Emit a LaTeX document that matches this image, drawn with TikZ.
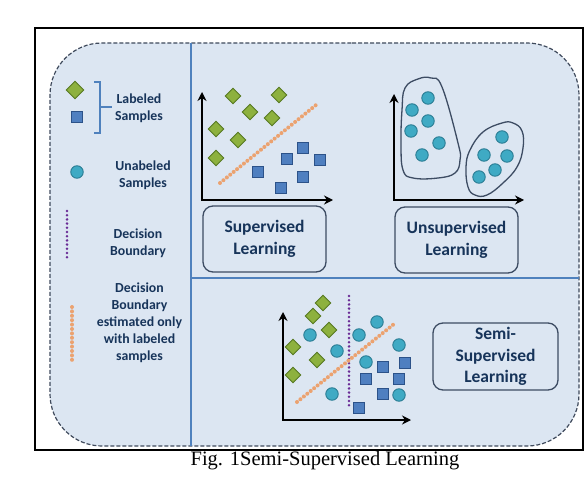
\documentclass[tikz,border=0pt]{standalone}
\usepackage{fontspec}
\setmainfont{Carlito}
\newfontfamily\capfont{Liberation Serif}
\usetikzlibrary{shapes.geometric,arrows.meta}
\definecolor{bgfill}{HTML}{DCE6F2}
\definecolor{bgdash}{HTML}{3F4A5C}
\definecolor{divblue}{HTML}{4F81BD}
\definecolor{gfill}{HTML}{8DB13E}
\definecolor{gdraw}{HTML}{587A25}
\definecolor{bfill}{HTML}{4F7FC0}
\definecolor{bdraw}{HTML}{2C5289}
\definecolor{cfill}{HTML}{3FAAC4}
\definecolor{cdraw}{HTML}{2A7C93}
\definecolor{orng}{HTML}{EBA270}
\definecolor{purp}{HTML}{6A2C96}
\definecolor{boxdraw}{HTML}{3D4C63}
\definecolor{navy}{HTML}{17345A}
\tikzset{
  gdia/.style={diamond,aspect=1,fill=gfill,draw=gdraw,line width=0.9pt,minimum width=16pt,minimum height=16pt,inner sep=0pt},
  bsq/.style={rectangle,fill=bfill,draw=bdraw,line width=0.9pt,minimum size=11.5pt,inner sep=0pt},
  ccir/.style={circle,fill=cfill,draw=cdraw,line width=0.9pt,minimum size=12.5pt,inner sep=0pt},
  lbox/.style={draw=boxdraw,line width=1.3pt,rounded corners=10pt,align=center,text=navy,
    font=\fontsize{17.5}{21.5}\selectfont\bfseries,minimum width=123pt,minimum height=66pt,inner sep=0pt},
  legtxt/.style={align=center,text=navy,font=\fontsize{13.8}{17}\selectfont\bfseries,inner sep=0pt},
  axis/.style={line width=2.4pt,black,{Stealth[length=9pt,width=9pt]}-{Stealth[length=9pt,width=9pt]}},
  orangedots/.style={orng,line width=4pt,line cap=round,dash pattern=on 0pt off 4.4pt},
  purpledots/.style={purp,line width=2.8pt,line cap=round,dash pattern=on 0pt off 4.2pt},
  blob/.style={draw=boxdraw,line width=1.3pt},
}
\begin{document}
\begin{tikzpicture}[x=1pt,y=-1pt]
\useasboundingbox (0,0) rectangle (588,478);
% outer frame
\draw[line width=1.8pt] (35,28) rectangle (583,450);
% background rounded dashed region
\draw[fill=bgfill,draw=bgdash,line width=1.2pt,dash pattern=on 4pt off 2pt,rounded corners=52pt]
  (300,43) -- (579,43) -- (579,446) -- (50,446) -- (50,43) -- cycle;
% dividers
\coordinate (vt) at (191,43);
\coordinate (vb) at (191,446);
\coordinate (hl) at (191,278);
\coordinate (hr) at (579,278);
\draw[divblue,line width=2pt] (vt) -- (vb);
\draw[divblue,line width=2pt] (hl) -- (hr);

% ---------- legend ----------
\node[gdia,minimum width=18pt,minimum height=18pt] (lg) at (75,90) {};
\node[bsq] (lb) at (77,117) {};
\coordinate (brt) at (94,82);
\coordinate (brb) at (94,133);
\coordinate (brm) at (112,107);
\draw[divblue,line width=2pt] (brt) -- (100,82) -- (100,133) -- (brb);
\draw[divblue,line width=2pt] (100,107) -- (brm);
\node[legtxt] (tlab) at (139,108) {Labeled\\Samples};
\node[ccir] (lc) at (77,172) {};
\node[legtxt] (tunl) at (143,175) {Unabeled\\Samples};
\coordinate (lp1) at (67,211);
\coordinate (lp2) at (67,259);
\draw[purpledots] (lp1) -- (lp2);
\node[legtxt] (tdb) at (138,243) {Decision\\Boundary};
\coordinate (lo1) at (72,307);
\coordinate (lo2) at (72,364);
\draw[orangedots] (lo1) -- (lo2);
\node[legtxt] (tdbe) at (139.5,323) {Decision\\Boundary\\estimated only\\with labeled\\samples};

% ---------- supervised ----------
\coordinate (so) at (202,200);
\coordinate (sy) at (202,92);
\coordinate (sx) at (333,200);
\draw[axis] (sy) -- (so) -- (sx);
\coordinate (sd1) at (220,183);
\coordinate (sd2) at (316,105);
\draw[orangedots] (sd1) -- (sd2);
\node[gdia] (sg1) at (233,96) {};
\node[gdia] (sg2) at (279,95) {};
\node[gdia] (sg3) at (250,112) {};
\node[gdia] (sg4) at (272,118) {};
\node[gdia] (sg5) at (216,129) {};
\node[gdia] (sg6) at (238,140) {};
\node[gdia] (sg7) at (216,158) {};
\node[bsq] (sb1) at (303,148) {};
\node[bsq] (sb2) at (287,159) {};
\node[bsq] (sb3) at (320,160) {};
\node[bsq] (sb4) at (258,172) {};
\node[bsq] (sb5) at (303,177) {};
\node[bsq] (sb6) at (281,188) {};
\node[lbox] (sbox) at (264.5,239) {Supervised\\Learning};

% ---------- unsupervised ----------
\coordinate (uo) at (394,200);
\coordinate (uy) at (394,94);
\coordinate (ux) at (524,200);
\draw[axis] (uy) -- (uo) -- (ux);
\draw[blob] plot[smooth cycle,tension=0.7] coordinates {
  (405,88) (418,79) (431,78) (442,87) (458,143) (460,160) (455,173) (438,178) (413,178) (403,170) (401,143) (402,110)};
\draw[blob] plot[smooth cycle,tension=0.7] coordinates {
  (513,123) (522,131) (523,148) (517,167) (503,183) (487,195) (475,195) (468,187) (466,167) (470,150) (483,132) (502,123)};
\node[ccir] (uc1) at (428,98) {};
\node[ccir] (uc2) at (412,110) {};
\node[ccir] (uc3) at (428,121) {};
\node[ccir] (uc4) at (411,131) {};
\node[ccir] (uc5) at (439,143) {};
\node[ccir] (uc6) at (422,155) {};
\node[ccir] (uc7) at (502,137) {};
\node[ccir] (uc8) at (484,155) {};
\node[ccir] (uc9) at (507,156) {};
\node[ccir] (uc10) at (495,170) {};
\node[ccir] (uc11) at (479,177) {};
\node[lbox] (ubox) at (456.5,240) {Unsupervised\\Learning};

% ---------- semi-supervised ----------
\coordinate (mo) at (283,420);
\coordinate (my) at (283,312);
\coordinate (mx) at (411,420);
\draw[axis] (my) -- (mo) -- (mx);
\coordinate (mp1) at (349,296);
\coordinate (mp2) at (349,407);
\draw[purpledots] (mp1) -- (mp2);
\coordinate (md1) at (297,402);
\coordinate (md2) at (394,324);
\draw[orangedots] (md1) -- (md2);
\node[gdia] (mg1) at (323,303) {};
\node[gdia] (mg2) at (313,316) {};
\node[gdia] (mg3) at (329,330) {};
\node[gdia] (mg4) at (293,347) {};
\node[gdia] (mg5) at (317,360) {};
\node[gdia] (mg6) at (293,375) {};
\node[ccir] (mc1) at (310,335) {};
\node[ccir] (mc2) at (337,351) {};
\node[ccir] (mc3) at (359,335) {};
\node[ccir] (mc4) at (377,322) {};
\node[ccir] (mc5) at (399,345) {};
\node[ccir] (mc6) at (366,362) {};
\node[ccir] (mc7) at (332,394) {};
\node[ccir] (mc8) at (399,395) {};
\node[bsq] (mb1) at (383,367) {};
\node[bsq] (mb2) at (405,363) {};
\node[bsq] (mb3) at (366,379) {};
\node[bsq] (mb4) at (399,379) {};
\node[bsq] (mb5) at (383,394) {};
\node[bsq] (mb6) at (359,408) {};
\node[lbox,minimum width=125pt,minimum height=67pt] (mbox) at (495.5,356.5) {Semi-\\Supervised\\Learning};

% caption
\node[font=\capfont\fontsize{20.5}{24}\selectfont,inner sep=0pt,anchor=base] (cap) at (325,465) {Fig. 1Semi-Supervised Learning};
\end{tikzpicture}
\end{document}
